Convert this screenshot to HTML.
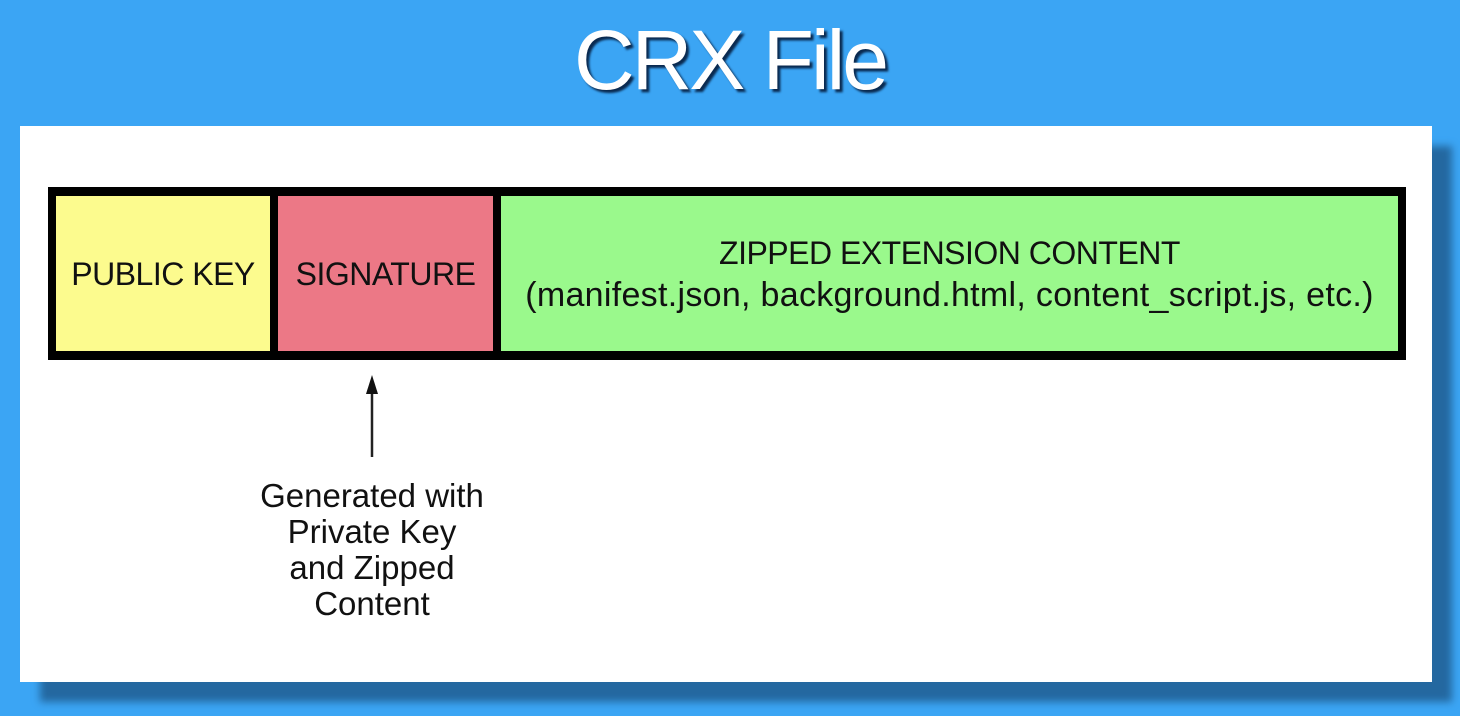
<!DOCTYPE html>
<html><head><style>
body{margin:0;width:1460px;height:716px;background:#3ba5f4;position:relative;overflow:hidden;font-family:"Liberation Sans",sans-serif;}
.t{position:absolute;left:0;width:1460px;top:12px;text-align:center;color:#fff;font-size:84px;letter-spacing:-3px;text-shadow:3px 3px 2px #0a2a50;}
.sh{position:absolute;left:40px;top:146px;width:1412px;height:556px;background:#2468a0;filter:blur(4px);}
.p{position:absolute;left:20px;top:126px;width:1412px;height:556px;background:#fff;}
.box{position:absolute;left:48px;top:187px;width:1358px;height:173px;background:#000;}
.c{position:absolute;top:9px;height:155px;display:flex;align-items:center;justify-content:center;text-align:center;color:#111;font-size:32px;letter-spacing:-0.5px;line-height:42px;}
.a{position:absolute;left:192px;top:478px;width:360px;text-align:center;font-size:33px;line-height:36px;color:#111;letter-spacing:0px;}
</style></head><body>
<div class="t">CRX File</div>
<div class="sh"></div>
<div class="p"></div>
<div class="box">
<div class="c" style="left:8px;width:214px;background:#fcfb8e">PUBLIC KEY</div>
<div class="c" style="left:230px;width:215px;background:#ec7886">SIGNATURE</div>
<div class="c" style="left:453px;width:897px;background:#9af98c"><div><span style="font-size:32px">ZIPPED EXTENSION CONTENT</span><br><span style="font-size:34px;letter-spacing:0.3px">(manifest.json, background.html, content_script.js, etc.)</span></div></div>
</div>
<svg style="position:absolute;left:0;top:0" width="1460" height="716">
<line x1="372" y1="390" x2="372" y2="457" stroke="#222" stroke-width="2.5"/>
<polygon points="372,375 366,394 378,394" fill="#111"/>
</svg>
<div class="a">Generated with<br>Private Key<br>and Zipped<br>Content</div>
</body></html>
